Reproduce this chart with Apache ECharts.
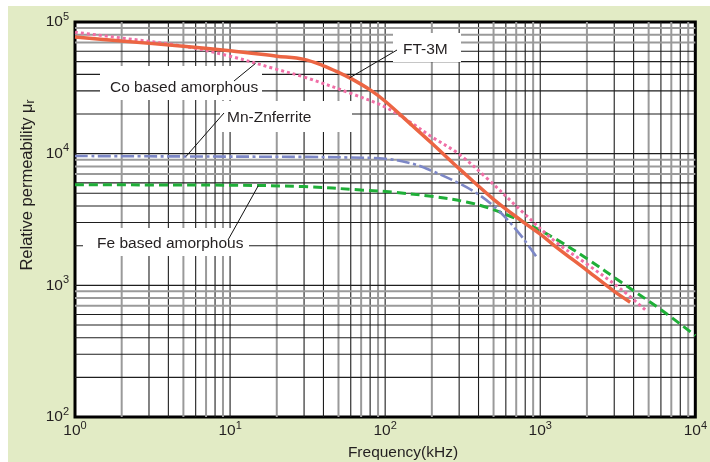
<!DOCTYPE html>
<html><head><meta charset="utf-8">
<script src="https://cdn.jsdelivr.net/npm/echarts@6/dist/echarts.min.js"></script>
<style>
html,body{margin:0;padding:0;background:#fff;}
#bg{position:absolute;left:8px;top:6px;width:702px;height:456px;background:#e2ebc5;}
#main{position:absolute;left:0;top:0;width:710px;height:462px;}
</style></head><body>
<div id="bg"></div><div id="main"></div>
<script>
// ---- axis ranges and tick labels (exponents of 10) ----
const xMin = 1, xMax = 10000, yMin = 100, yMax = 100000;
const xTickExp = [0, 1, 2, 3, 4];
const yTickExp = [2, 3, 4, 5];

// ---- series (frequency kHz, relative permeability) ----
const ft3mFreq = [1, 2, 5, 10, 20, 30, 40, 50, 60, 80, 100, 150, 200, 300, 500, 770, 1000, 1250, 2000, 3000, 3800];
const ft3mPerm = [77000, 71600, 65500, 60500, 55000, 52000, 46500, 41500, 37300, 30500, 25000, 16300, 12000, 7700, 4500, 3050, 2450, 1980, 1300, 900, 745];

const coFreq = [1, 2, 5, 10, 20, 30, 60, 100, 150, 200, 300, 450, 770, 1250, 2000, 3300, 4800];
const coPerm = [83600, 75600, 65500, 55000, 43700, 38200, 28700, 22600, 16900, 13400, 9900, 6550, 3600, 2150, 1450, 940, 645];

const mnFreq = [1, 3, 10, 30, 60, 100, 150, 200, 300, 400, 500, 600, 770, 960];
const mnPerm = [9600, 9550, 9500, 9450, 9350, 9150, 8400, 7400, 5950, 4900, 4000, 3250, 2300, 1600];

const feFreq = [1, 10, 30, 70, 114, 205, 334, 469, 770, 1256, 2040, 3350, 6040, 10000];
const fePerm = [5800, 5760, 5620, 5300, 5090, 4720, 4300, 3850, 3050, 2250, 1570, 1050, 650, 415];

const seriesNames = ['FT-3M', 'Co based amorphous', 'Mn-Znferrite', 'Fe based amorphous'];

// ---- grid line multiples in each decade ----
const multiples = [2, 3, 4, 5, 6, 7, 8, 9, 10];
const vGrayMult = [2, 5, 7, 9];
const hGrayMult = [7, 8, 9];

const FONT = '"Liberation Sans", Arial, Helvetica, sans-serif';
const TXT = '#231f20';

function zip(a, b) { return a.map((v, i) => [v, b[i]]); }

function gridData(minExp, maxExp, grayList, vertical) {
  const out = [];
  for (let e = minExp; e < maxExp; e++) {
    multiples.forEach(m => {
      const v = m * Math.pow(10, e);
      if (m === 10 && e === maxExp - 1) return;
      const gray = grayList.indexOf(m) >= 0 ? 1 : 0;
      out.push(vertical ? [v, 1000, gray] : [10, v, gray]);
    });
  }
  return out;
}

const vGrid = gridData(0, 4, vGrayMult, true);
const hGrid = gridData(2, 5, hGrayMult, false);

function gridRender(vertical) {
  return function (params, api) {
    const v = vertical ? api.value(0) : api.value(1);
    const gray = api.value(2) === 1;
    const p1 = vertical ? api.coord([v, yMin]) : api.coord([xMin, v]);
    const p2 = vertical ? api.coord([v, yMax]) : api.coord([xMax, v]);
    return {
      type: 'line',
      shape: { x1: p1[0], y1: p1[1], x2: p2[0], y2: p2[1] },
      style: { stroke: gray ? '#9a9a9a' : '#1e1e1e', lineWidth: gray ? 2 : 1.1 }
    };
  };
}

function expFormatter(v) {
  const e = Math.round(Math.log10(v));
  return '{b|10}{s|' + e + '}';
}
const richLab = {
  b: { fontSize: 15.5, fontFamily: FONT, color: TXT, lineHeight: 22 },
  s: { fontSize: 11, fontFamily: FONT, color: TXT, lineHeight: 10, verticalAlign: 'top' }
};

const chart = echarts.init(document.getElementById('main'), null, { renderer: 'canvas' });

const option = {
  backgroundColor: 'transparent',
  animation: false,
  grid: {
    left: 75, top: 22, width: 626, height: 395,
    show: true, backgroundColor: '#fff', borderColor: '#000', borderWidth: 3
  },
  xAxis: {
    type: 'log', logBase: 10, min: xMin, max: xMax,
    axisLine: { show: false }, axisTick: { show: false },
    splitLine: { show: false }, minorSplitLine: { show: false },
    axisLabel: {
      margin: 3, formatter: expFormatter, rich: richLab,
      customValues: xTickExp.map(e => Math.pow(10, e))
    }
  },
  yAxis: {
    type: 'log', logBase: 10, min: yMin, max: yMax,
    axisLine: { show: false }, axisTick: { show: false },
    splitLine: { show: false },
    axisLabel: {
      margin: 6, formatter: expFormatter, rich: richLab,
      customValues: yTickExp.map(e => Math.pow(10, e))
    }
  },
  series: [
    { type: 'custom', name: 'vgrid', data: vGrid, renderItem: gridRender(true), encode: { x: 0, y: 1 }, z: 1, silent: true, clip: true },
    { type: 'custom', name: 'hgrid', data: hGrid, renderItem: gridRender(false), encode: { x: 0, y: 1 }, z: 1, silent: true, clip: true },
    { type: 'line', name: seriesNames[3], data: zip(feFreq, fePerm), smooth: 0.35, showSymbol: false, z: 3,
      lineStyle: { color: '#1faf38', width: 3, type: [9, 5] } },
    { type: 'line', name: seriesNames[2], data: zip(mnFreq, mnPerm), smooth: 0.35, showSymbol: false, z: 3,
      lineStyle: { color: '#7c87c6', width: 2.6, type: [13, 3.5, 3, 3.5] } },
    { type: 'line', name: seriesNames[1], data: zip(coFreq, coPerm), smooth: 0.35, showSymbol: false, z: 4,
      lineStyle: { color: '#f06ea6', width: 3, type: [3, 3] } },
    { type: 'line', name: seriesNames[0], data: zip(ft3mFreq, ft3mPerm), smooth: 0.35, showSymbol: false, z: 5,
      lineStyle: { color: '#ec6543', width: 3.5 } }
  ]
};
chart.setOption(option);

// ---- annotations: label boxes + leader lines anchored on curves ----
function interpLog(fs, vs, f) {
  const lf = Math.log10(f);
  for (let i = 0; i < fs.length - 1; i++) {
    const a = Math.log10(fs[i]), b = Math.log10(fs[i + 1]);
    if (lf >= a && lf <= b) {
      const t = (lf - a) / (b - a);
      return Math.pow(10, Math.log10(vs[i]) + t * (Math.log10(vs[i + 1]) - Math.log10(vs[i])));
    }
  }
  return vs[vs.length - 1];
}
const curves = { ft: [ft3mFreq, ft3mPerm], co: [coFreq, coPerm], mn: [mnFreq, mnPerm], fe: [feFreq, fePerm] };
const annotations = [
  { text: 'Co based amorphous', box: [100, 66, 162, 34], textPos: [110, 88], lineStart: [234, 81], curve: 'co', anchorFreq: 14.6 },
  { text: 'FT-3M', box: [393, 33, 68, 29], textPos: [403, 50], lineStart: [397, 50], curve: 'ft', anchorFreq: 59 },
  { text: 'Mn-Znferrite', box: [220, 101, 132, 31], textPos: [227, 118], lineStart: [224, 113], curve: 'mn', anchorFreq: 5.2 },
  { text: 'Fe based amorphous', box: [83, 228, 166, 28], textPos: [97, 244], lineStart: [228, 240], curve: 'fe', anchorFreq: 15.2 }
];
const elements = [];
annotations.forEach(a => {
  const c = curves[a.curve];
  const end = chart.convertToPixel({ gridIndex: 0 }, [a.anchorFreq, interpLog(c[0], c[1], a.anchorFreq)]);
  elements.push({ type: 'rect', z: 50, shape: { x: a.box[0], y: a.box[1], width: a.box[2], height: a.box[3] }, style: { fill: '#fff' } });
  elements.push({ type: 'text', z: 52, style: { x: a.textPos[0], y: a.textPos[1], text: a.text, fill: TXT, fontSize: 15.5, fontFamily: FONT, verticalAlign: 'middle', align: 'left' } });
  elements.push({ type: 'line', z: 53, shape: { x1: a.lineStart[0], y1: a.lineStart[1], x2: end[0], y2: end[1] }, style: { stroke: '#111', lineWidth: 1 } });
});
// axis titles
elements.push({ type: 'text', z: 52, style: { x: 403, y: 453, text: 'Frequency(kHz)', fill: TXT, fontSize: 15.5, fontFamily: FONT, align: 'center', verticalAlign: 'middle' } });
elements.push({ type: 'text', z: 52, x: 27, y: 185, rotation: Math.PI / 2,
  style: { x: 0, y: 0, text: '{m|Relative permeability μ}{r|r}', align: 'center', verticalAlign: 'middle',
    rich: { m: { fontSize: 16.5, fontFamily: FONT, fill: TXT, color: TXT, lineHeight: 20 },
            r: { fontSize: 12, fontFamily: FONT, fill: TXT, color: TXT, lineHeight: 11, verticalAlign: 'bottom' } } } });
chart.setOption({ graphic: { elements: elements } });
</script>
</body></html>
